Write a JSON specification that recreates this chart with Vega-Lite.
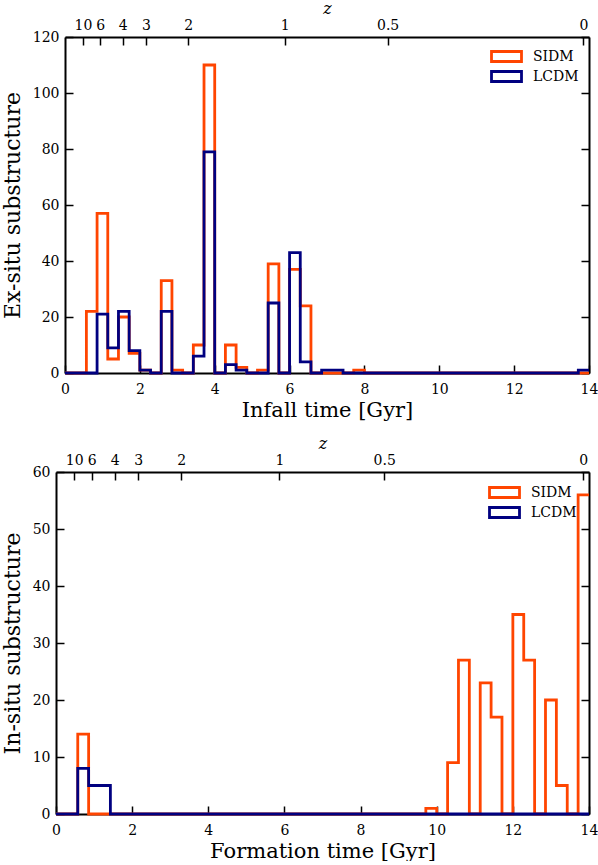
{
  "$schema": "https://vega.github.io/schema/vega-lite/v6.json",
  "background": "white",
  "padding": {"left": 1, "top": 0, "right": 2, "bottom": 0},
  "spacing": 15,
  "resolve": {"scale": {"color": "independent"}},
  "config": {
    "view": {"stroke": null},
    "font": "DejaVu Serif",
    "axis": {
      "domainColor": "black", "domainWidth": 2, "tickColor": "black", "tickWidth": 1.5, "tickSize": -8,
      "labelFont": "DejaVu Serif", "labelFontSize": 14, "labelColor": "black",
      "titleFont": "DejaVu Serif", "titleFontSize": 21, "titleFontWeight": "normal", "titleColor": "black",
      "grid": false, "labelFlush": false, "labelOverlap": false, "zindex": 1
    },
    "axisBottom": {"labelPadding": 17, "titlePadding": 3},
    "axisLeft": {"labelPadding": 14, "titlePadding": 8, "titleFontSize": 22},
    "axisTop": {"labelPadding": 12.5, "titlePadding": 2, "titleFontStyle": "italic", "titleFontSize": 16},
    "axisRight": {"labels": false, "title": null},
    "legend": {
      "orient": "none", "title": null,
      "symbolType": "M-2.143,-0.714H2.143V0.714H-2.143Z", "symbolSize": 196, "symbolStrokeWidth": 3,
      "symbolFillColor": "white",
      "labelFont": "DejaVu Serif", "labelFontSize": 14, "labelColor": "black",
      "labelOffset": 18
    },
    "line": {"interpolate": "step-after", "strokeWidth": 2.8}
  },
  "datasets": {
    "exsitu": [
      {"t": 0, "SIDM": 0, "LCDM": 0},
      {"t": 0.2857, "SIDM": 0, "LCDM": 0},
      {"t": 0.5714, "SIDM": 22, "LCDM": 0},
      {"t": 0.8571, "SIDM": 57, "LCDM": 21},
      {"t": 1.1429, "SIDM": 5, "LCDM": 9},
      {"t": 1.4286, "SIDM": 20, "LCDM": 22},
      {"t": 1.7143, "SIDM": 7, "LCDM": 8},
      {"t": 2, "SIDM": 1, "LCDM": 1},
      {"t": 2.2857, "SIDM": 0, "LCDM": 0},
      {"t": 2.5714, "SIDM": 33, "LCDM": 22},
      {"t": 2.8571, "SIDM": 1, "LCDM": 0},
      {"t": 3.1429, "SIDM": 0, "LCDM": 0},
      {"t": 3.4286, "SIDM": 10, "LCDM": 6},
      {"t": 3.7143, "SIDM": 110, "LCDM": 79},
      {"t": 4, "SIDM": 0, "LCDM": 0},
      {"t": 4.2857, "SIDM": 10, "LCDM": 3},
      {"t": 4.5714, "SIDM": 2, "LCDM": 1},
      {"t": 4.8571, "SIDM": 0, "LCDM": 0},
      {"t": 5.1429, "SIDM": 1, "LCDM": 0},
      {"t": 5.4286, "SIDM": 39, "LCDM": 25},
      {"t": 5.7143, "SIDM": 0, "LCDM": 0},
      {"t": 6, "SIDM": 37, "LCDM": 43},
      {"t": 6.2857, "SIDM": 24, "LCDM": 4},
      {"t": 6.5714, "SIDM": 0, "LCDM": 0},
      {"t": 6.8571, "SIDM": 0, "LCDM": 1},
      {"t": 7.1429, "SIDM": 0, "LCDM": 1},
      {"t": 7.4286, "SIDM": 0, "LCDM": 0},
      {"t": 7.7143, "SIDM": 1, "LCDM": 0},
      {"t": 8, "SIDM": 0, "LCDM": 0},
      {"t": 8.2857, "SIDM": 0, "LCDM": 0},
      {"t": 8.5714, "SIDM": 0, "LCDM": 0},
      {"t": 8.8571, "SIDM": 0, "LCDM": 0},
      {"t": 9.1429, "SIDM": 0, "LCDM": 0},
      {"t": 9.4286, "SIDM": 0, "LCDM": 0},
      {"t": 9.7143, "SIDM": 0, "LCDM": 0},
      {"t": 10, "SIDM": 0, "LCDM": 0},
      {"t": 10.2857, "SIDM": 0, "LCDM": 0},
      {"t": 10.5714, "SIDM": 0, "LCDM": 0},
      {"t": 10.8571, "SIDM": 0, "LCDM": 0},
      {"t": 11.1429, "SIDM": 0, "LCDM": 0},
      {"t": 11.4286, "SIDM": 0, "LCDM": 0},
      {"t": 11.7143, "SIDM": 0, "LCDM": 0},
      {"t": 12, "SIDM": 0, "LCDM": 0},
      {"t": 12.2857, "SIDM": 0, "LCDM": 0},
      {"t": 12.5714, "SIDM": 0, "LCDM": 0},
      {"t": 12.8571, "SIDM": 0, "LCDM": 0},
      {"t": 13.1429, "SIDM": 0, "LCDM": 0},
      {"t": 13.4286, "SIDM": 0, "LCDM": 0},
      {"t": 13.7143, "SIDM": 0, "LCDM": 1},
      {"t": 14, "SIDM": 0, "LCDM": 1}
    ],
    "insitu": [
      {"t": 0, "SIDM": 0, "LCDM": 0},
      {"t": 0.2857, "SIDM": 0, "LCDM": 0},
      {"t": 0.5714, "SIDM": 14, "LCDM": 8},
      {"t": 0.8571, "SIDM": 0, "LCDM": 5},
      {"t": 1.1429, "SIDM": 0, "LCDM": 5},
      {"t": 1.4286, "SIDM": 0, "LCDM": 0},
      {"t": 1.7143, "SIDM": 0, "LCDM": 0},
      {"t": 2, "SIDM": 0, "LCDM": 0},
      {"t": 2.2857, "SIDM": 0, "LCDM": 0},
      {"t": 2.5714, "SIDM": 0, "LCDM": 0},
      {"t": 2.8571, "SIDM": 0, "LCDM": 0},
      {"t": 3.1429, "SIDM": 0, "LCDM": 0},
      {"t": 3.4286, "SIDM": 0, "LCDM": 0},
      {"t": 3.7143, "SIDM": 0, "LCDM": 0},
      {"t": 4, "SIDM": 0, "LCDM": 0},
      {"t": 4.2857, "SIDM": 0, "LCDM": 0},
      {"t": 4.5714, "SIDM": 0, "LCDM": 0},
      {"t": 4.8571, "SIDM": 0, "LCDM": 0},
      {"t": 5.1429, "SIDM": 0, "LCDM": 0},
      {"t": 5.4286, "SIDM": 0, "LCDM": 0},
      {"t": 5.7143, "SIDM": 0, "LCDM": 0},
      {"t": 6, "SIDM": 0, "LCDM": 0},
      {"t": 6.2857, "SIDM": 0, "LCDM": 0},
      {"t": 6.5714, "SIDM": 0, "LCDM": 0},
      {"t": 6.8571, "SIDM": 0, "LCDM": 0},
      {"t": 7.1429, "SIDM": 0, "LCDM": 0},
      {"t": 7.4286, "SIDM": 0, "LCDM": 0},
      {"t": 7.7143, "SIDM": 0, "LCDM": 0},
      {"t": 8, "SIDM": 0, "LCDM": 0},
      {"t": 8.2857, "SIDM": 0, "LCDM": 0},
      {"t": 8.5714, "SIDM": 0, "LCDM": 0},
      {"t": 8.8571, "SIDM": 0, "LCDM": 0},
      {"t": 9.1429, "SIDM": 0, "LCDM": 0},
      {"t": 9.4286, "SIDM": 0, "LCDM": 0},
      {"t": 9.7143, "SIDM": 1, "LCDM": 0},
      {"t": 10, "SIDM": 0, "LCDM": 0},
      {"t": 10.2857, "SIDM": 9, "LCDM": 0},
      {"t": 10.5714, "SIDM": 27, "LCDM": 0},
      {"t": 10.8571, "SIDM": 0, "LCDM": 0},
      {"t": 11.1429, "SIDM": 23, "LCDM": 0},
      {"t": 11.4286, "SIDM": 17, "LCDM": 0},
      {"t": 11.7143, "SIDM": 0, "LCDM": 0},
      {"t": 12, "SIDM": 35, "LCDM": 0},
      {"t": 12.2857, "SIDM": 27, "LCDM": 0},
      {"t": 12.5714, "SIDM": 0, "LCDM": 0},
      {"t": 12.8571, "SIDM": 20, "LCDM": 0},
      {"t": 13.1429, "SIDM": 5, "LCDM": 0},
      {"t": 13.4286, "SIDM": 0, "LCDM": 0},
      {"t": 13.7143, "SIDM": 56, "LCDM": 0},
      {"t": 14, "SIDM": 56, "LCDM": 0}
    ]
  },
  "vconcat": [
    {
      "width": 533,
      "height": 336,
      "data": {"name": "exsitu"},
      "layer": [
        {
          "mark": "line",
          "encoding": {
            "x": {"field": "t", "type": "quantitative",
                  "scale": {"domain": [0, 14], "range": [9, 533], "nice": false, "zero": false},
                  "axis": {"orient": "bottom", "values": [0, 2, 4, 6, 8, 10, 12, 14], "title": "Infall time [Gyr]"}},
            "y": {"field": "SIDM", "type": "quantitative",
                  "scale": {"domain": [0, 120], "nice": false},
                  "axis": {"orient": "left", "offset": -9, "values": [0, 20, 40, 60, 80, 100, 120], "title": "Ex-situ substructure"}},
            "color": {"datum": "SIDM", "type": "nominal",
                      "scale": {"domain": ["SIDM", "LCDM"], "range": ["#ff4500", "#000080"]},
                      "legend": {"legendX": 442, "legendY": 11, "rowPadding": -4}}
          }
        },
        {
          "mark": "line",
          "encoding": {
            "x": {"field": "t", "type": "quantitative",
                  "axis": {"orient": "top", "values": [0.48, 0.94, 1.54, 2.16, 3.29, 5.87, 8.62, 13.85],
                           "labelExpr": "datum.value < 0.6 ? '10' : datum.value < 1.2 ? '6' : datum.value < 2 ? '4' : datum.value < 3 ? '3' : datum.value < 4 ? '2' : datum.value < 7 ? '1' : datum.value < 10 ? '0.5' : '0'",
                           "title": "z"}},
            "y": {"field": "LCDM", "type": "quantitative",
                  "axis": {"orient": "right", "values": [0, 20, 40, 60, 80, 100, 120]}},
            "color": {"datum": "LCDM", "type": "nominal"}
          }
        }
      ],
      "resolve": {"axis": {"x": "independent", "y": "independent"}}
    },
    {
      "width": 533,
      "height": 342,
      "data": {"name": "insitu"},
      "layer": [
        {
          "mark": "line",
          "encoding": {
            "x": {"field": "t", "type": "quantitative",
                  "scale": {"domain": [0, 14], "nice": false, "zero": false},
                  "axis": {"orient": "bottom", "values": [0, 2, 4, 6, 8, 10, 12, 14], "title": "Formation time [Gyr]"}},
            "y": {"field": "SIDM", "type": "quantitative",
                  "scale": {"domain": [0, 60], "nice": false},
                  "axis": {"orient": "left", "values": [0, 10, 20, 30, 40, 50, 60], "title": "In-situ substructure"}},
            "color": {"datum": "SIDM", "type": "nominal",
                      "scale": {"domain": ["SIDM", "LCDM"], "range": ["#ff4500", "#000080"]},
                      "legend": {"legendX": 440, "legendY": 12, "rowPadding": -4}}
          }
        },
        {
          "mark": "line",
          "encoding": {
            "x": {"field": "t", "type": "quantitative",
                  "axis": {"orient": "top", "values": [0.48, 0.94, 1.54, 2.16, 3.29, 5.87, 8.62, 13.85],
                           "labelExpr": "datum.value < 0.6 ? '10' : datum.value < 1.2 ? '6' : datum.value < 2 ? '4' : datum.value < 3 ? '3' : datum.value < 4 ? '2' : datum.value < 7 ? '1' : datum.value < 10 ? '0.5' : '0'",
                           "title": "z"}},
            "y": {"field": "LCDM", "type": "quantitative",
                  "axis": {"orient": "right", "values": [0, 10, 20, 30, 40, 50, 60]}},
            "color": {"datum": "LCDM", "type": "nominal"}
          }
        }
      ],
      "resolve": {"axis": {"x": "independent", "y": "independent"}}
    }
  ]
}
